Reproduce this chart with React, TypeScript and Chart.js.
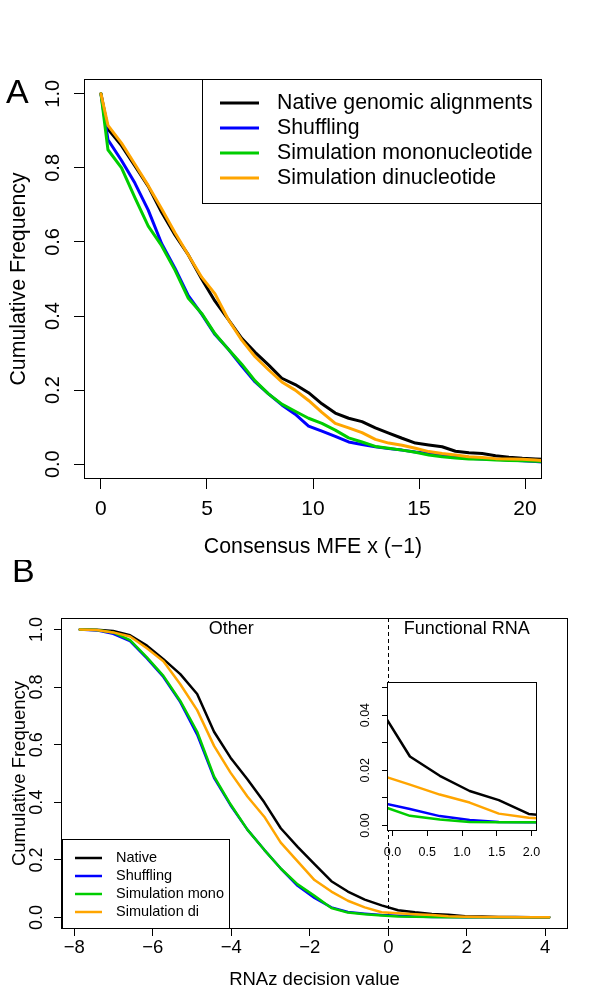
import React, { useEffect, useRef } from "react";
import { Chart, registerables } from "chart.js";
Chart.register(...registerables);

const FONT = '"Liberation Sans", Arial, Helvetica, sans-serif';

// ---------- Panel A data ----------
const mfeX = [0, 0.33, 0.97, 1.6, 2.23, 2.86, 3.49, 4.12, 4.75, 5.38, 6.01, 6.64, 7.27, 7.9, 8.53, 9.16, 9.79, 10.42, 11.05, 11.68, 12.31, 12.94, 13.57, 14.2, 14.83, 15.46, 16.09, 16.72, 17.35, 17.98, 18.61, 19.24, 19.87, 20.5, 21.13];
const nativeA = [1.0, 0.905, 0.86, 0.805, 0.75, 0.68, 0.619, 0.565, 0.5, 0.44, 0.39, 0.34, 0.302, 0.268, 0.232, 0.215, 0.193, 0.163, 0.138, 0.124, 0.115, 0.098, 0.084, 0.07, 0.057, 0.052, 0.047, 0.035, 0.031, 0.029, 0.023, 0.019, 0.016, 0.014, 0.012];
const shufflingA = [1.0, 0.876, 0.82, 0.759, 0.686, 0.596, 0.529, 0.455, 0.405, 0.35, 0.31, 0.265, 0.222, 0.19, 0.16, 0.135, 0.103, 0.089, 0.075, 0.06, 0.053, 0.047, 0.042, 0.038, 0.033, 0.029, 0.024, 0.02, 0.016, 0.014, 0.013, 0.011, 0.009, 0.007, 0.005];
const monoA = [1.0, 0.849, 0.8, 0.72, 0.643, 0.59, 0.524, 0.448, 0.407, 0.352, 0.31, 0.27, 0.225, 0.19, 0.162, 0.143, 0.124, 0.11, 0.092, 0.071, 0.06, 0.048, 0.043, 0.038, 0.032, 0.025, 0.02, 0.017, 0.014, 0.013, 0.011, 0.01, 0.009, 0.008, 0.007];
const diA = [1.0, 0.915, 0.867, 0.81, 0.752, 0.69, 0.625, 0.565, 0.505, 0.46, 0.39, 0.335, 0.29, 0.255, 0.222, 0.2, 0.172, 0.14, 0.11, 0.098, 0.085, 0.067, 0.057, 0.051, 0.043, 0.034, 0.029, 0.025, 0.02, 0.018, 0.015, 0.014, 0.013, 0.011, 0.009];
const mfeTicks = [0, 5, 10, 15, 20];
const mfeTickLabels = ["0", "5", "10", "15", "20"];
const freqTicks = [0, 0.2, 0.4, 0.6, 0.8, 1.0];
const freqTickLabels = ["0.0", "0.2", "0.4", "0.6", "0.8", "1.0"];
const namesA = ["Native genomic alignments", "Shuffling", "Simulation mononucleotide", "Simulation dinucleotide"];

// ---------- Panel B data ----------
const rnazX = [-7.86, -7.43, -7.01, -6.58, -6.15, -5.73, -5.3, -4.87, -4.44, -4.02, -3.59, -3.16, -2.74, -2.31, -1.88, -1.45, -1.03, -0.6, -0.17, 0.25, 0.68, 1.11, 1.53, 1.96, 2.39, 2.81, 3.24, 3.67, 4.1];
const nativeB = [1.0, 0.999, 0.995, 0.98, 0.944, 0.897, 0.845, 0.776, 0.645, 0.555, 0.48, 0.4, 0.31, 0.245, 0.185, 0.126, 0.09, 0.062, 0.042, 0.025, 0.018, 0.0125, 0.0092, 0.0042, 0.003, 0.002, 0.0015, 0.001, 0.001];
const shufflingB = [1.0, 0.997, 0.985, 0.96, 0.9, 0.835, 0.748, 0.635, 0.485, 0.39, 0.305, 0.235, 0.17, 0.11, 0.068, 0.035, 0.019, 0.013, 0.0083, 0.006, 0.0034, 0.002, 0.0013, 0.0012, 0.001, 0.001, 0.0008, 0.0006, 0.0005];
const monoB = [1.0, 0.998, 0.99, 0.963, 0.903, 0.839, 0.752, 0.645, 0.49, 0.393, 0.305, 0.235, 0.17, 0.115, 0.075, 0.033, 0.017, 0.011, 0.0072, 0.0035, 0.0022, 0.0013, 0.0012, 0.0012, 0.001, 0.001, 0.0008, 0.0006, 0.0005];
const diB = [1.0, 0.998, 0.99, 0.976, 0.935, 0.89, 0.81, 0.72, 0.596, 0.503, 0.42, 0.35, 0.26, 0.195, 0.13, 0.09, 0.058, 0.035, 0.0182, 0.0148, 0.0112, 0.0083, 0.0043, 0.0028, 0.002, 0.0015, 0.001, 0.001, 0.0008];
const rnazTicks = [-8, -6, -4, -2, 0, 2, 4];
const rnazTickLabels = ["\u22128", "\u22126", "\u22124", "\u22122", "0", "2", "4"];
const namesB = ["Native", "Shuffling", "Simulation mono", "Simulation di"];
const regionLabels = ["Other", "Functional RNA"];
const regionLabelX = [-4, 2];

// ---------- Inset ----------
const insetTicksX = [0, 0.5, 1, 1.5, 2];
const insetTickLabelsX = ["0.0", "0.5", "1.0", "1.5", "2.0"];
const insetTicksY = [0, 0.01, 0.02, 0.03, 0.04, 0.05];
const insetLabelTicksY = [0, 0.02, 0.04];
const insetTickLabelsY = ["0.00", "0.02", "0.04"];

const colors = ["#000000", "#0000FF", "#00CD00", "#FFA500"];
const drawOrder = [4, 3, 2, 1];

function axis(min: number, max: number, tickValues: number[], size: number, tickLen: number, horizontal: boolean) {
  return {
    type: "linear" as const,
    min,
    max,
    bounds: "data" as const,
    afterBuildTicks: (s: any) => {
      s.ticks = tickValues.map((v) => ({ value: v }));
    },
    afterFit: (s: any) => {
      if (horizontal) s.height = size;
      else s.width = size;
    },
    ticks: { display: false },
    grid: { display: true, drawOnChartArea: false, drawTicks: true, tickLength: tickLen, color: "#000", lineWidth: 1 },
    border: { display: false },
  };
}

function datasets(xs: number[], series: number[][], width: number) {
  return series.map((ys, i) => ({
    data: xs.map((x, j) => ({ x, y: ys[j] })),
    borderColor: colors[i],
    backgroundColor: colors[i],
    borderWidth: width,
    pointRadius: 0,
    tension: 0,
    fill: false,
    order: drawOrder[i],
    borderCapStyle: "round" as const,
    borderJoinStyle: "round" as const,
  }));
}

function text(ctx: CanvasRenderingContext2D, s: string, x: number, y: number, size: number, align: CanvasTextAlign = "center", rot = false) {
  ctx.save();
  ctx.font = `${size}px ${FONT}`;
  ctx.fillStyle = "#000";
  ctx.textAlign = align;
  ctx.textBaseline = "middle";
  ctx.translate(x, y);
  if (rot) ctx.rotate(-Math.PI / 2);
  ctx.fillText(s, 0, 0);
  ctx.restore();
}

function box(ctx: CanvasRenderingContext2D, l: number, t: number, r: number, b: number, fill = false) {
  ctx.save();
  if (fill) {
    ctx.fillStyle = "#fff";
    ctx.fillRect(l, t, r - l, b - t);
  }
  ctx.strokeStyle = "#000";
  ctx.lineWidth = 1;
  ctx.strokeRect(Math.round(l) + 0.5, Math.round(t) + 0.5, Math.round(r - l) - 1, Math.round(b - t) - 1);
  ctx.restore();
}

function legend(ctx: CanvasRenderingContext2D, names: string[], l: number, t: number, r: number, b: number, lineX0: number, lineX1: number, textX: number, rows: number[], size: number, lw: number) {
  box(ctx, l, t, r, b, true);
  names.forEach((n, i) => {
    ctx.save();
    ctx.strokeStyle = colors[i];
    ctx.lineWidth = lw;
    ctx.beginPath();
    ctx.moveTo(lineX0, rows[i]);
    ctx.lineTo(lineX1, rows[i]);
    ctx.stroke();
    ctx.restore();
    text(ctx, n, textX, rows[i], size, "left");
  });
}

const baseOpts = {
  responsive: false,
  animation: false as const,
  devicePixelRatio: 1,
  events: [] as any[],
};

export default function App() {
  const refA = useRef<HTMLCanvasElement>(null);
  const refB = useRef<HTMLCanvasElement>(null);
  const refI = useRef<HTMLCanvasElement>(null);

  useEffect(() => {
    const decorA = {
      id: "decorA",
      afterDraw(chart: any) {
        const ctx = chart.ctx as CanvasRenderingContext2D;
        const { left, right, top, bottom } = chart.chartArea;
        const xs = chart.scales.x, ys = chart.scales.y;
        box(ctx, left, top, right, bottom);
        mfeTicks.forEach((v, i) => text(ctx, mfeTickLabels[i], xs.getPixelForValue(v), bottom + 30, 21));
        freqTicks.forEach((v, i) => text(ctx, freqTickLabels[i], left - 31, ys.getPixelForValue(v), 20, "center", true));
        text(ctx, "Consensus MFE x (\u22121)", (left + right) / 2, bottom + 68, 21.3);
        text(ctx, "Cumulative Frequency", 19, (top + bottom) / 2, 21.3, "center", true);
        legend(ctx, namesA, right - 340, top, right, top + 125, right - 322, right - 283, right - 265, [top + 24, top + 49, top + 74, top + 99], 21.3, 3);
        text(ctx, "A", 6, 94, 34, "left");
      },
    };

    const decorB = {
      id: "decorB",
      beforeDatasetsDraw(chart: any) {
        const ctx = chart.ctx as CanvasRenderingContext2D;
        const { top, bottom } = chart.chartArea;
        const x0 = Math.round(chart.scales.x.getPixelForValue(0)) + 0.5;
        ctx.save();
        ctx.strokeStyle = "#000";
        ctx.lineWidth = 1;
        ctx.setLineDash([4, 3]);
        ctx.beginPath();
        ctx.moveTo(x0, top);
        ctx.lineTo(x0, bottom);
        ctx.stroke();
        ctx.restore();
      },
      afterDraw(chart: any) {
        const ctx = chart.ctx as CanvasRenderingContext2D;
        const { left, right, top, bottom } = chart.chartArea;
        const xs = chart.scales.x, ys = chart.scales.y;
        box(ctx, left, top, right, bottom);
        rnazTicks.forEach((v, i) => text(ctx, rnazTickLabels[i], xs.getPixelForValue(v), bottom + 19, 18.5));
        freqTicks.forEach((v, i) => text(ctx, freqTickLabels[i], left - 24, ys.getPixelForValue(v), 18, "center", true));
        text(ctx, "RNAz decision value", (left + right) / 2, bottom + 51, 18.5);
        text(ctx, "Cumulative Frequency", 20, (top + bottom) / 2, 18.5, "center", true);
        regionLabels.forEach((s, i) => text(ctx, s, xs.getPixelForValue(regionLabelX[i]), ys.getPixelForValue(1.0), 18));
        legend(ctx, namesB, left + 1, bottom - 90, left + 169, bottom, left + 14, left + 41, left + 55, [bottom - 71, bottom - 53, bottom - 35, bottom - 17], 14.5, 2.5);
        text(ctx, "B", 12, 13, 34, "left");
      },
    };

    const decorI = {
      id: "decorI",
      beforeDatasetsDraw(chart: any) {
        const ctx = chart.ctx as CanvasRenderingContext2D;
        const { left, right, top, bottom } = chart.chartArea;
        ctx.save();
        ctx.fillStyle = "#fff";
        ctx.fillRect(left, top, right - left, bottom - top);
        ctx.restore();
      },
      afterDraw(chart: any) {
        const ctx = chart.ctx as CanvasRenderingContext2D;
        const { left, right, top, bottom } = chart.chartArea;
        const xs = chart.scales.x, ys = chart.scales.y;
        box(ctx, left, top, right, bottom);
        insetTicksX.forEach((v, i) => text(ctx, insetTickLabelsX[i], xs.getPixelForValue(v), bottom + 22, 12.5));
        insetLabelTicksY.forEach((v, i) => text(ctx, insetTickLabelsY[i], left - 21, ys.getPixelForValue(v), 12.5, "center", true));
      },
    };

    const chartA = new Chart(refA.current as HTMLCanvasElement, {
      type: "line",
      data: { datasets: datasets(mfeX, [nativeA, shufflingA, monoA, diA], 3) as any },
      options: {
        ...baseOpts,
        layout: { padding: { left: 0, top: 79, right: 58, bottom: 0 } },
        plugins: { legend: { display: false }, tooltip: { enabled: false } },
        scales: {
          x: axis(-0.8, 20.8, mfeTicks, 81, 10, true) as any,
          y: axis(-0.04, 1.04, freqTicks, 84, 10, false) as any,
        },
      },
      plugins: [decorA],
    });

    const chartB = new Chart(refB.current as HTMLCanvasElement, {
      type: "line",
      data: { datasets: datasets(rnazX, [nativeB, shufflingB, monoB, diB], 2.5) as any },
      options: {
        ...baseOpts,
        layout: { padding: { left: 0, top: 58, right: 32, bottom: 0 } },
        plugins: { legend: { display: false }, tooltip: { enabled: false } },
        scales: {
          x: axis(-8.34, 4.58, rnazTicks, 77, 7, true) as any,
          y: axis(-0.04, 1.04, freqTicks, 61, 7, false) as any,
        },
      },
      plugins: [decorB],
    });

    const chartI = new Chart(refI.current as HTMLCanvasElement, {
      type: "line",
      data: { datasets: datasets(rnazX, [nativeB, shufflingB, monoB, diB], 2.5) as any },
      options: {
        ...baseOpts,
        layout: { padding: { left: 0, top: 12, right: 13, bottom: 0 } },
        plugins: { legend: { display: false }, tooltip: { enabled: false } },
        scales: {
          x: axis(-0.08, 2.08, insetTicksX, 39, 5, true) as any,
          y: axis(-0.002, 0.052, insetTicksY, 47, 5, false) as any,
        },
      },
      plugins: [decorI],
    });

    return () => {
      chartA.destroy();
      chartB.destroy();
      chartI.destroy();
    };
  }, []);

  return (
    <div style={{ position: "absolute", left: 0, top: 0, width: 600, height: 1006, background: "#fff", overflow: "hidden" }}>
      <canvas ref={refA} width={600} height={560} style={{ position: "absolute", left: 0, top: 0 }} />
      <canvas ref={refB} width={600} height={446} style={{ position: "absolute", left: 0, top: 560 }} />
      <canvas ref={refI} width={210} height={200} style={{ position: "absolute", left: 340, top: 670 }} />
    </div>
  );
}
